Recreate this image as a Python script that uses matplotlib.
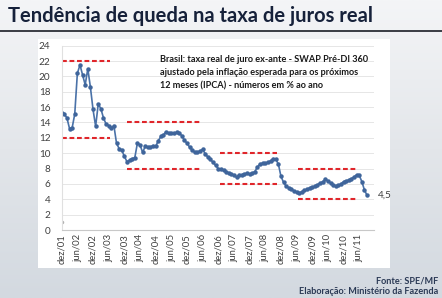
import matplotlib.pyplot as plt
import numpy as np
from matplotlib.patches import Rectangle
from matplotlib.colors import LinearSegmentedColormap

plt.rcParams['font.family'] = ['Lato', 'DejaVu Sans']

# taxa real de juro ex-ante, mensal, dez/01 .. set/11
juro_real = [15.3, 15.1, 14.6, 13.2, 13.3, 15.1, 20.4, 21.5, 20.2, 18.9,
             21.0, 18.6, 15.7, 13.5, 16.4, 15.8, 14.6, 13.8, 13.6, 13.3,
             13.6, 11.3, 10.6, 10.4, 9.6, 8.9, 9.1, 9.3, 9.4, 11.3,
             11.1, 10.1, 10.9, 10.8, 10.8, 11.0, 10.9, 11.6, 12.2, 12.4,
             12.8, 12.6, 12.6, 12.6, 12.7, 12.6, 12.3, 11.7, 11.3, 10.8,
             10.4, 10.1, 10.1, 10.3, 10.5, 9.9, 9.5, 9.2, 8.8, 8.4,
             8.0, 7.9, 7.8, 7.6, 7.4, 7.3, 7.1, 6.9, 7.2, 7.2,
             7.3, 7.4, 7.3, 7.4, 7.6, 8.2, 8.6, 8.7, 8.7, 8.8,
             9.0, 9.3, 9.2, 8.6, 7.0, 6.2, 5.7, 5.5, 5.3, 5.1,
             4.9, 4.8, 5.0, 5.2, 5.3, 5.5, 5.6, 5.7, 5.9, 6.1,
             6.3, 6.6, 6.4, 6.1, 5.9, 5.7, 5.8, 6.0, 6.3, 6.4,
             6.5, 6.7, 6.9, 7.2, 7.1, 6.3, 5.2, 4.5]
meses = list(range(len(juro_real)))

tick_labels = ["dez/01", "jun/02", "dez/02", "jun/03", "dez/03", "jun/04",
               "dez/04", "jun/05", "dez/05", "jun/06", "dez/06", "jun/07",
               "dez/07", "jun/08", "dez/08", "jun/09", "dez/09", "jun/10",
               "dez/10", "jun/11"]
tick_pos = [i * 6 for i in range(len(tick_labels))]

# faixas de tendencia (linhas tracejadas vermelhas)
faixa_inicio = [0, 25, 60.7, 90.4]
faixa_fim = [18.5, 53.2, 82.4, 113.2]
faixa_alta = [22, 14, 10, 8]
faixa_baixa = [12, 8, 6, 4]

W, H = 442, 298
fig = plt.figure(figsize=(W / 100, H / 100), dpi=100)

# fundo em degrade
bg = fig.add_axes([0, 0, 1, 1])
grad = np.linspace(0, 1, 256).reshape(-1, 1)
cmap = LinearSegmentedColormap.from_list("bg", ["#f4f5f7", "#e3e6ea", "#d3d9e0"])
bg.imshow(grad, aspect="auto", cmap=cmap, extent=[0, 1, 0, 1], origin="upper")
bg.set_xlim(0, 1)
bg.set_ylim(0, 1)
bg.axis("off")
bg.plot([0, 1], [1 - 30.5 / H, 1 - 30.5 / H], color="#2b2f36", lw=1.3)
bg.add_patch(Rectangle((38 / W, 1 - 268 / H), 352 / W, 229 / H,
                       facecolor="white", edgecolor="none"))

fig.text(8 / W, 1 - 16 / H, "Tendência de queda na taxa de juros real",
         fontsize=14.5, fontweight="bold", color="#16213a", va="center")

ax = fig.add_axes([61.7 / W, 1 - 230 / H, 311.9 / W, 184.3 / H])
ax.set_facecolor("none")
ax.set_xlim(0, 119.5)
ax.set_ylim(0, 24)
ax.set_yticks(range(0, 25, 2))
ax.set_xticks(tick_pos)
ax.set_xticklabels(tick_labels, rotation=90, fontsize=6.8, color="#404040")
ax.tick_params(axis="y", labelsize=7.2, labelcolor="#404040", length=0, pad=8)
ax.tick_params(axis="x", length=0, pad=3)
ax.grid(axis="y", color="#e6e6e6", lw=0.7)
ax.set_axisbelow(True)
for s in ["top", "right"]:
    ax.spines[s].set_visible(False)
ax.spines["left"].set_color("#e0e0e0")
ax.spines["bottom"].set_color("#c8c8c8")

for x0, x1, a, b in zip(faixa_inicio, faixa_fim, faixa_alta, faixa_baixa):
    ax.plot([x0, x1], [a, a], color="#e0262b", lw=1.5, dashes=(2.3, 1.3))
    ax.plot([x0, x1], [b, b], color="#e0262b", lw=1.5, dashes=(2.3, 1.3))

ax.plot(meses, juro_real, color="#4a72a8", lw=1.2, marker="o", ms=2.2,
        markerfacecolor="#3f659b", markeredgecolor="#3f659b")
ax.plot([0], [1.0], marker="o", ms=1.5, color="#b0b0b0", ls="none")

ax.annotate("4,5", (meses[-1], juro_real[-1]), xytext=(8, 0),
            textcoords="offset points", fontsize=7.2, color="#404040",
            va="center")

fig.text(160 / W, 1 - 55 / H,
         "Brasil: taxa real de juro ex-ante - SWAP Pré-DI 360\n"
         "ajustado pela inflação esperada para os próximos\n"
         "12 meses (IPCA) - números em % ao ano",
         fontsize=6.6, fontweight="bold", color="#1a1a1a", va="top",
         linespacing=1.6)

fig.text(438 / W, 1 - 281 / H, "Fonte: SPE/MF", fontsize=6.6,
         fontweight="bold", color="#2b3a55", ha="right", va="center")
fig.text(438 / W, 1 - 292 / H, "Elaboração: Ministério da Fazenda",
         fontsize=6.6, fontweight="bold", color="#2b3a55", ha="right",
         va="center")

plt.savefig("out.png", dpi=100)
